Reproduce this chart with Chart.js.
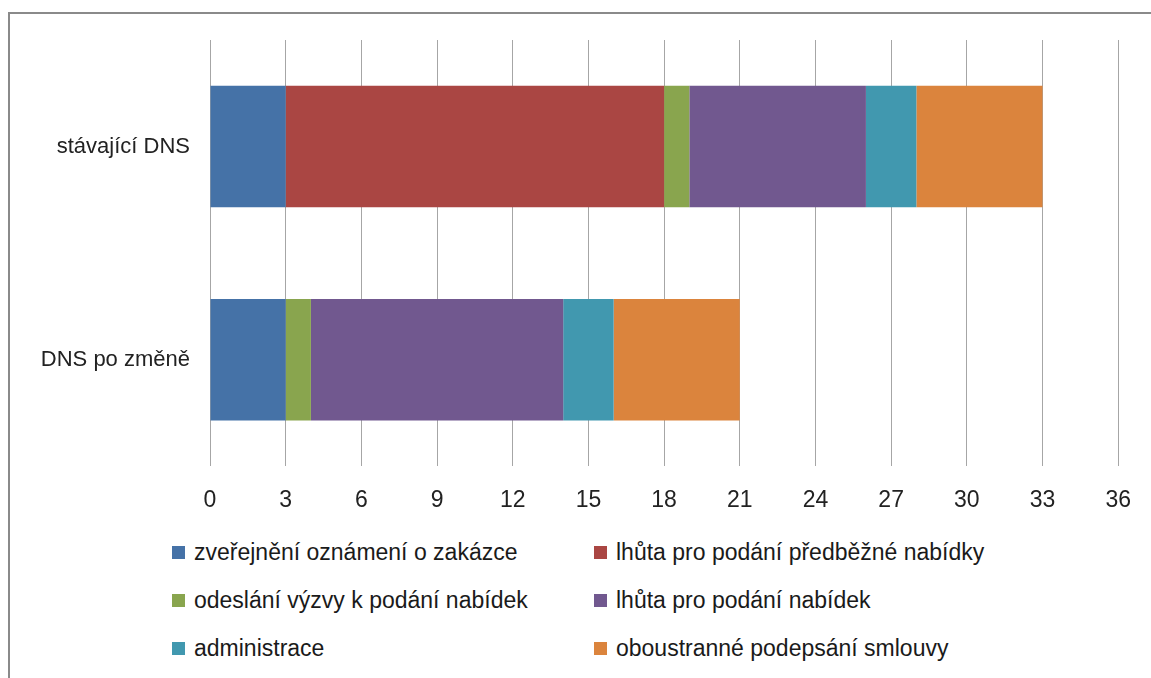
<!DOCTYPE html>
<html>
<head>
<meta charset="utf-8">
<script src="https://cdn.jsdelivr.net/npm/chart.js@4"></script>
<style>
  html, body { margin:0; background:#fff; overflow:hidden; font-family:"Liberation Sans", Arial, sans-serif; }
  .frame { position:absolute; left:8px; top:12px; width:1200px; height:700px; border-left:2px solid #8a8a8a; border-top:2px solid #8a8a8a; }
  .wrap { position:absolute; left:0; top:0; width:1151px; height:534px; }
  .legend { position:absolute; left:172px; top:539px; display:grid; grid-template-columns:422px 400px; row-gap:22px; font-size:23px; color:#1a1a1a; }
  .legend div { display:flex; align-items:center; height:26px; white-space:nowrap; }
  .legend span.box { display:inline-block; width:13px; height:13px; margin-right:9px; }
</style>
</head>
<body>
<div class="frame"></div>
<div class="wrap"><canvas id="ch"></canvas></div>
<div class="legend" id="legend"></div>
<script>
const categories = ['stávající DNS', 'DNS po změně'];
const seriesNames = ['zveřejnění oznámení o zakázce','lhůta pro podání předběžné nabídky','odeslání výzvy k podání nabídek','lhůta pro podání nabídek','administrace','oboustranné podepsání smlouvy'];
const zverejneni = [3, 3];
const lhutaPredbezna = [15, 0];
const odeslaniVyzvy = [1, 1];
const lhutaNabidek = [7, 10];
const administrace = [2, 2];
const podpis = [5, 5];
const colors = ['#4572A7','#AA4643','#89A54E','#71588F','#4198AF','#DB843D'];
const xTicks = [0,3,6,9,12,15,18,21,24,27,30,33,36];

const values = [zverejneni, lhutaPredbezna, odeslaniVyzvy, lhutaNabidek, administrace, podpis];
const fam = '"Liberation Sans", Arial, sans-serif';

new Chart(document.getElementById('ch'), {
  type:'bar',
  data:{ labels:categories, datasets: seriesNames.map((n,i)=>({ label:n, data:values[i], backgroundColor:colors[i], borderWidth:0, categoryPercentage:1, barPercentage:0.57 })) },
  options:{ indexAxis:'y', responsive:true, maintainAspectRatio:false, animation:false,
    layout:{ padding:{ top:40, right:31, bottom:0, left:0 } },
    plugins:{ legend:{display:false}, tooltip:{enabled:false} },
    scales:{
      x:{ stacked:true, min:0, max:36, afterBuildTicks:s=>{ s.ticks = xTicks.map(v=>({value:v})); },
        grid:{ color:'#a6a6a6', drawTicks:false }, border:{display:false},
        ticks:{ padding:20, color:'#222', font:{family:fam, size:23} } },
      y:{ stacked:true, grid:{display:false}, border:{display:false},
        afterFit:s=>{ s.width = 210; },
        ticks:{ padding:12, color:'#222', font:{family:fam, size:22} } }
    } }
});

document.getElementById('legend').innerHTML = seriesNames.map((n,i)=>`<div><span class="box" style="background:${colors[i]}"></span>${n}</div>`).join('');
</script>
</body>
</html>
